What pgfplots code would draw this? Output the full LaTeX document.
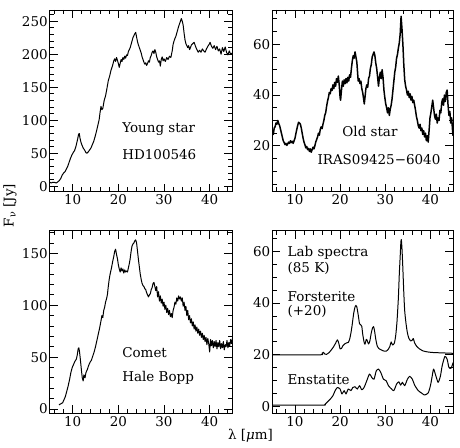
\documentclass[border=0pt]{standalone}
\usepackage{pgfplots}
\pgfplotsset{compat=1.18}
\usepackage{fontspec}
\setmainfont{DejaVu Serif}
\newcommand{\ff}{\fontsize{13.5}{16}\selectfont}
\pgfplotsset{
  panel/.style={
    scale only axis, anchor=south west,
    xmin=5, xmax=45,
    xtick={10,20,30,40}, minor xtick={6,8,12,14,16,18,22,24,26,28,32,34,36,38,42,44},
    tick align=inside,
    xtick pos=both, ytick pos=both,
    xticklabel pos=lower, yticklabel pos=left,
    major tick length=8pt, minor tick length=4.5pt,
    every tick/.append style={line width=0.9pt, black},
    axis line style={line width=0.9pt},
    tick label style={font=\ff},
    /pgf/number format/assume math mode=true,
    yticklabel style={inner sep=2pt},
    xticklabel style={inner sep=3pt},
  },
  spec/.style={black, line width=1.0pt, no marks, line join=round},
}
\begin{document}
\begin{tikzpicture}
% ---------------- Top left: Young star
\begin{axis}[panel, at={(49pt,256pt)}, width=183pt, height=182pt,
  ymin=-8, ymax=267, ytick={0,50,100,150,200,250}, minor ytick={10,20,30,40,60,70,80,90,110,120,130,140,160,170,180,190,210,220,230,240,260}]
\addplot[spec] coordinates {
(5.0,6)(5.3,5)(5.6,6)(6.0,6)(6.4,5)(6.8,7)(7.1,9)(7.4,12)(7.7,17)(8.0,20)(8.3,22)(8.6,26)(8.9,30)(9.2,36)(9.5,42)(9.8,47)(10.1,51)(10.4,54)(10.7,60)(10.9,66)(11.1,72)(11.3,79)(11.45,80)(11.6,73)(11.8,67)(12.0,63)(12.3,58)(12.6,55)(12.9,51)(13.1,50)(13.4,52)(13.7,55)(14.0,58)(14.3,63)(14.6,68)(14.9,75)(15.2,83)(15.5,92)(15.8,101)(16.0,112)(16.2,121)(16.4,116)(16.6,118)(16.9,130)(17.2,137)(17.5,148)(17.8,160)(18.1,167)(18.4,176)(18.7,182)(19.0,190)(19.2,193)(19.4,189)(19.6,195)(19.8,191)(20.0,186)(20.2,180)(20.4,186)(20.6,192)(20.8,189)(21.0,195)(21.2,192)(21.4,197)(21.6,194)(21.8,199)(22.0,198)(22.2,204)(22.4,207)(22.6,210)(22.8,215)(23.0,220)(23.2,225)(23.4,228)(23.6,231)(23.8,233)(24.0,226)(24.2,219)(24.4,214)(24.6,210)(24.8,206)(25.0,202)(25.2,196)(25.4,192)(25.6,188)(25.8,185)(26.0,187)(26.2,183)(26.4,186)(26.6,190)(26.8,188)(27.0,195)(27.2,198)(27.4,203)(27.6,205)(27.8,201)(28.0,207)(28.2,203)(28.4,196)(28.6,192)(28.8,188)(29.0,190)(29.2,182)(29.4,192)(29.6,196)(29.8,190)(30.0,193)(30.3,189)(30.6,195)(30.9,192)(31.2,197)(31.5,195)(31.8,205)(32.0,215)(32.2,220)(32.4,224)(32.6,227)(32.8,232)(33.0,237)(33.2,242)(33.4,246)(33.6,250)(33.8,254)(34.0,250)(34.2,244)(34.4,232)(34.6,222)(34.8,216)(35.0,213)(35.2,210)(35.4,213)(35.6,207)(35.8,210)(36.0,214)(36.3,216)(36.6,218)(36.9,212)(37.2,207)(37.5,203)(37.8,206)(38.1,203)(38.4,208)(38.7,205)(39.0,203)(39.3,208)(39.6,212)(39.9,215)(40.1,218)(40.4,212)(40.7,209)(41.0,213)(41.3,207)(41.6,212)(41.9,205)(42.2,208)(42.5,200)(42.8,210)(43.1,204)(43.4,211)(43.7,203)(44.0,199)(44.3,205)(44.6,200)(45.0,202)
};
\node[font=\ff, anchor=west] at (axis cs:20.1,87) {Young star};
\node[font=\ff, anchor=west] at (axis cs:20.1,48) {HD100546};
\end{axis}
% ---------------- Top right: Old star
\begin{axis}[panel, at={(272pt,256pt)}, width=181pt, height=182pt,
  ymin=2, ymax=73.5, ytick={20,40,60}, minor ytick={5,10,15,25,30,35,45,50,55,65,70}]
\addplot[spec, line width=1.5pt] coordinates {
(5.0,25.5)(5.2,24.5)(5.4,27)(5.6,27.5)(5.8,29)(6.0,28.5)(6.2,30)(6.4,28.8)(6.6,28)(6.8,26.5)(7.0,25)(7.2,23.5)(7.4,22)(7.6,21.3)(7.8,20.5)(8.0,21)(8.2,20.2)(8.4,20.8)(8.6,21.5)(8.8,21)(9.0,22)(9.2,21.3)(9.4,21.8)(9.6,21)(9.8,22)(10.0,23)(10.2,24.8)(10.4,26.5)(10.6,28)(10.8,29.3)(11.0,29)(11.2,28.5)(11.4,27)(11.6,25)(11.8,23)(12.0,21.5)(12.2,20.5)(12.4,19.2)(12.6,19.8)(12.8,18.5)(13.0,19)(13.2,17.8)(13.4,18.8)(13.6,17.5)(13.8,18.5)(14.0,19.5)(14.2,18.8)(14.4,20)(14.6,21.5)(14.8,22.5)(15.0,23.5)(15.2,25)(15.4,24.2)(15.6,26.5)(15.8,27.5)(16.0,26.8)(16.2,28.5)(16.4,30)(16.6,32)(16.8,33)(17.0,35.5)(17.2,37.5)(17.4,39)(17.6,41)(17.8,40.5)(18.0,42.5)(18.2,41.8)(18.4,44)(18.6,42.5)(18.8,45)(19.0,43.5)(19.2,46.5)(19.4,45)(19.6,47.5)(19.8,44)(20.0,39)(20.1,38)(20.3,42)(20.5,45.5)(20.7,43.5)(20.9,46)(21.1,44.5)(21.3,46.5)(21.5,44.8)(21.7,47)(21.9,45.5)(22.1,48)(22.3,47)(22.5,50.5)(22.7,53.5)(22.9,55.5)(23.1,54.5)(23.3,57)(23.5,55)(23.7,53)(23.9,48)(24.0,45.5)(24.2,46.5)(24.4,44.5)(24.6,45.5)(24.8,42.5)(25.0,41)(25.2,38.5)(25.35,36.5)(25.5,39)(25.7,42.5)(25.9,44)(26.1,43)(26.3,46.5)(26.5,47.5)(26.7,50.5)(26.9,52)(27.1,55)(27.3,56)(27.5,57)(27.7,55.5)(27.9,52.5)(28.1,50.5)(28.3,47)(28.5,43.5)(28.7,47)(28.9,49)(29.1,46.5)(29.3,50)(29.5,47)(29.7,42)(29.9,39)(30.1,36.5)(30.3,35)(30.5,33)(30.7,35)(30.9,32)(31.1,34.5)(31.3,36)(31.5,38.5)(31.7,42)(31.9,45.5)(32.1,49)(32.3,51)(32.5,54.5)(32.7,56)(32.9,58.5)(33.1,60.5)(33.3,64)(33.5,71)(33.7,66)(33.9,60)(34.1,52)(34.3,46)(34.5,43.5)(34.7,42)(34.9,40)(35.1,41.5)(35.3,39)(35.5,40.5)(35.7,38)(35.9,39.5)(36.1,37)(36.3,38)(36.5,36)(36.7,34)(36.9,31.5)(37.1,30)(37.3,28)(37.5,27)(37.7,28.5)(37.9,26)(38.1,27)(38.3,24.5)(38.5,26)(38.7,23.5)(38.9,25)(39.1,22)(39.3,24)(39.5,21.5)(39.7,26)(39.9,31)(40.1,33)(40.3,35.5)(40.5,38)(40.7,35)(40.9,32)(41.1,30.5)(41.3,32.5)(41.5,29)(41.7,31)(41.9,30)(42.1,34)(42.3,33)(42.5,37)(42.7,38.5)(42.9,36)(43.1,40)(43.3,37.5)(43.5,41)(43.7,42)(43.9,36)(44.1,32)(44.3,33.5)(44.5,29)(44.7,31)(44.9,26)(45.0,24)
};
\node[font=\ff] at (axis cs:26.6,25.5) {Old star};
\node[font=\ff] at (axis cs:28.6,14.5) {IRAS09425−6040};
\end{axis}
% ---------------- Bottom left: Comet
\begin{axis}[panel, at={(49pt,34pt)}, width=183pt, height=183pt,
  ymin=-4, ymax=172, ytick={0,50,100,150}, minor ytick={10,20,30,40,60,70,80,90,110,120,130,140,160,170}]
\addplot[spec] coordinates {
(7.0,4)(7.4,5)(7.8,6)(8.1,9)(8.4,12)(8.7,17)(9.0,22)(9.3,28)(9.6,35)(9.9,40)(10.2,43)(10.5,46)(10.8,48)(11.0,52)(11.2,58)(11.35,59)(11.5,55)(11.7,47)(11.9,38)(12.1,30)(12.3,27)(12.45,33)(12.7,30)(12.9,35)(13.2,38)(13.5,42)(13.8,45)(14.1,47)(14.4,51)(14.7,55)(15.0,60)(15.3,66)(15.6,72)(15.9,78)(16.2,85)(16.4,90)(16.6,88)(16.8,95)(17.0,98)(17.2,103)(17.4,106)(17.6,110)(17.8,118)(18.0,125)(18.2,130)(18.5,136)(18.8,143)(19.0,147)(19.2,152)(19.4,154)(19.6,149)(19.8,145)(20.0,139)(20.2,135)(20.4,132)(20.6,136)(20.8,133)(21.0,135)(21.2,131)(21.4,134)(21.6,132)(21.8,133)(22.0,132)(22.2,136)(22.4,140)(22.6,145)(22.8,152)(23.0,157)(23.2,159)(23.4,160)(23.6,162)(23.8,163)(24.0,160)(24.2,152)(24.4,144)(24.6,137)(24.8,130)(25.0,125)(25.2,121)(25.4,119)(25.6,118)(25.8,116)(26.0,115)(26.2,112)(26.4,110)(26.6,108)(26.8,110)(27.0,111)(27.2,115)(27.4,117)(27.6,121)(27.8,122)(28.0,118)(28.2,114)(28.4,118)(28.6,108)(28.8,113)(29.0,104)(29.2,109)(29.4,102)(29.6,106)(29.8,99)(30.0,103)(30.2,96)(30.4,100)(30.6,93)(30.8,97)(31.0,91)(31.2,95)(31.4,89)(31.6,92)(31.8,88)(32.0,95)(32.2,98)(32.4,103)(32.6,101)(32.8,107)(33.0,104)(33.2,109)(33.4,106)(33.6,108)(33.8,104)(34.0,107)(34.2,99)(34.4,103)(34.6,95)(34.8,99)(35.0,90)(35.2,95)(35.4,86)(35.6,90)(35.8,83)(36.0,87)(36.2,80)(36.4,84)(36.6,77)(36.8,81)(37.0,75)(37.2,79)(37.4,73)(37.6,77)(37.8,71)(38.0,75)(38.2,69)(38.4,73)(38.6,67)(38.8,71)(39.0,65)(39.2,69)(39.4,62)(39.6,68)(39.8,63)(40.0,55)(40.2,67)(40.4,61)(40.6,66)(40.8,59)(41.0,65)(41.2,60)(41.4,66)(41.6,58)(41.8,64)(42.0,60)(42.2,66)(42.4,58)(42.6,63)(42.8,59)(43.0,65)(43.2,57)(43.4,62)(43.6,60)(43.8,66)(44.0,59)(44.2,64)(44.4,61)(44.6,67)(44.8,63)(45.0,68)
};
\node[font=\ff, anchor=west] at (axis cs:20.1,54.6) {Comet};
\node[font=\ff, anchor=west] at (axis cs:20.1,29.6) {Hale Bopp};
\end{axis}
% ---------------- Bottom right: Lab spectra
\begin{axis}[panel, at={(272pt,34pt)}, width=181pt, height=183pt,
  ymin=-2.5, ymax=68, ytick={0,20,40,60}, minor ytick={5,10,15,25,30,35,45,50,55,65}]
\addplot[spec, smooth, tension=0.4] coordinates {
(5,20)(15.5,20)(16.0,20.6)(16.3,21)(16.6,20.3)(17.0,20.2)(17.5,20.8)(18.0,21.8)(18.5,23)(19.0,24.5)(19.4,25.8)(19.7,24.5)(20.0,22.3)(20.3,22.5)(20.6,23.5)(21.0,24.2)(21.4,24.6)(21.8,24.8)(22.1,26)(22.4,28.5)(22.7,32)(23.0,36)(23.3,38.5)(23.5,39.1)(23.7,38.5)(24.0,35.5)(24.3,32)(24.6,31.5)(24.8,31)(25.0,28)(25.3,25)(25.5,24.1)(25.8,26)(26.0,25.5)(26.3,24.2)(26.6,25.5)(26.9,28.5)(27.2,30.5)(27.4,30.9)(27.6,29.5)(27.9,26)(28.2,23.5)(28.6,22.4)(29.0,22)(29.6,21.5)(30.2,21.4)(30.6,22)(31.0,23.2)(31.3,25)(31.6,23.8)(32.0,24.5)(32.3,27.3)(32.6,33)(32.9,42)(33.1,51)(33.3,58)(33.45,63.5)(33.55,64.5)(33.7,61)(33.9,53)(34.1,44)(34.3,37)(34.6,32)(34.9,28.5)(35.2,26.5)(35.6,25.4)(35.9,25.5)(36.2,26.3)(36.5,24.6)(37.0,23.2)(37.5,22.4)(38.4,21.5)(39.5,21.1)(40.6,20.9)(42,20.8)(45,20.6)
};
\addplot[spec, smooth, tension=0.4] coordinates {
(5,0.6)(16.0,0.6)(16.6,0.8)(17.1,1.7)(17.8,2.9)(18.4,4.2)(18.9,6.2)(19.4,7.4)(20.0,6.8)(20.4,4.9)(20.9,6.2)(21.3,4.9)(21.8,6.8)(22.4,6.2)(22.8,7.4)(23.3,7.7)(23.8,6.8)(24.3,8.1)(24.8,6.5)(25.3,7.4)(25.9,10)(26.5,12.6)(27.0,11.3)(27.5,10.6)(28.0,13.8)(28.5,14.5)(29.0,13.2)(29.6,10.6)(30.2,10)(30.7,8.1)(31.4,6.8)(31.9,6.2)(32.5,8.7)(33.0,9.6)(33.4,8.3)(33.8,9.4)(34.3,8.1)(34.9,10.6)(35.4,11.7)(36.0,10.6)(36.5,8.3)(37.3,6.2)(38.0,5.3)(38.7,4.5)(39.5,5.3)(40.0,8.1)(40.4,11.9)(40.7,14.5)(41.2,11.9)(41.7,9.4)(42.2,11.7)(42.6,15.8)(43.2,19.4)(43.7,18.3)(44.1,15.1)(44.6,14.9)(45,17)
};
\node[font=\ff, anchor=west] at (axis cs:7.6,59.3) {Lab spectra};
\node[font=\ff, anchor=west] at (axis cs:7.6,53.3) {(85 K)};
\node[font=\ff, anchor=west] at (axis cs:7.6,42.4) {Forsterite};
\node[font=\ff, anchor=west] at (axis cs:7.6,36.7) {(+20)};
\node[font=\ff, anchor=west] at (axis cs:7.6,10.6) {Enstatite};
\end{axis}
% axis titles
\node[font=\ff, rotate=90] at (9pt,242pt) {F\textsubscript{ν} [Jy]};
\node[font=\ff] at (250pt,11pt) {λ [\textit{μ}m]};
\path[use as bounding box] (0,0) rectangle (460pt,448pt);
\end{tikzpicture}
\end{document}
